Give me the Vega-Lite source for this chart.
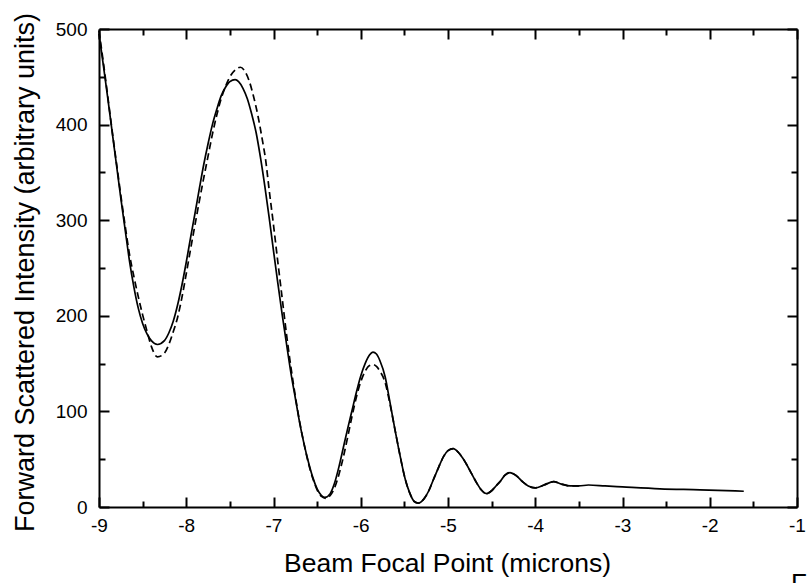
{
  "$schema": "https://vega.github.io/schema/vega-lite/v6.json",
  "width": 698,
  "height": 478,
  "autosize": {"type": "none"},
  "padding": {"left": 99, "top": 29, "right": 11, "bottom": 76},
  "background": "white",
  "title": {"text": "Figure", "orient": "bottom", "anchor": "start", "frame": "group", "dx": 692, "offset": -6, "fontSize": 26, "font": "Liberation Sans", "fontWeight": "normal", "color": "black"},
  "config": {
    "view": {"stroke": null},
    "font": "Liberation Sans",
    "axis": {"grid": false, "domainColor": "black", "domainWidth": 2, "tickColor": "black", "tickWidth": 2, "labelColor": "black", "labelFont": "Liberation Sans", "labelFontSize": 19, "titleColor": "black", "titleFont": "Liberation Sans", "titleFontSize": 26.5, "titleFontWeight": "normal"}
  },
  "datasets": {
    "solid": [
      {"x": -9.00, "y": 495}, {"x": -8.95, "y": 462}, {"x": -8.90, "y": 428}, {"x": -8.85, "y": 393},
      {"x": -8.80, "y": 358}, {"x": -8.75, "y": 323}, {"x": -8.70, "y": 290}, {"x": -8.65, "y": 257},
      {"x": -8.60, "y": 230}, {"x": -8.55, "y": 208}, {"x": -8.50, "y": 192}, {"x": -8.45, "y": 181},
      {"x": -8.40, "y": 174}, {"x": -8.33, "y": 170}, {"x": -8.25, "y": 174}, {"x": -8.20, "y": 182},
      {"x": -8.15, "y": 194}, {"x": -8.10, "y": 211}, {"x": -8.05, "y": 232}, {"x": -8.00, "y": 256},
      {"x": -7.95, "y": 282}, {"x": -7.90, "y": 307}, {"x": -7.85, "y": 333}, {"x": -7.80, "y": 358},
      {"x": -7.75, "y": 380}, {"x": -7.70, "y": 400}, {"x": -7.65, "y": 416}, {"x": -7.60, "y": 430},
      {"x": -7.55, "y": 439}, {"x": -7.50, "y": 445}, {"x": -7.44, "y": 447}, {"x": -7.40, "y": 445},
      {"x": -7.35, "y": 438}, {"x": -7.30, "y": 427}, {"x": -7.25, "y": 411}, {"x": -7.20, "y": 392},
      {"x": -7.15, "y": 366}, {"x": -7.10, "y": 336}, {"x": -7.05, "y": 303}, {"x": -7.00, "y": 268},
      {"x": -6.95, "y": 234}, {"x": -6.90, "y": 201}, {"x": -6.85, "y": 170}, {"x": -6.80, "y": 140},
      {"x": -6.75, "y": 114}, {"x": -6.70, "y": 88}, {"x": -6.65, "y": 66}, {"x": -6.60, "y": 47},
      {"x": -6.55, "y": 31}, {"x": -6.50, "y": 19}, {"x": -6.45, "y": 12}, {"x": -6.41, "y": 10},
      {"x": -6.35, "y": 14}, {"x": -6.30, "y": 25}, {"x": -6.25, "y": 42}, {"x": -6.20, "y": 62},
      {"x": -6.15, "y": 82}, {"x": -6.10, "y": 101}, {"x": -6.05, "y": 120}, {"x": -6.00, "y": 137},
      {"x": -5.95, "y": 150}, {"x": -5.90, "y": 159}, {"x": -5.86, "y": 162}, {"x": -5.82, "y": 160},
      {"x": -5.78, "y": 153}, {"x": -5.72, "y": 136}, {"x": -5.67, "y": 112}, {"x": -5.61, "y": 82},
      {"x": -5.55, "y": 54}, {"x": -5.49, "y": 29}, {"x": -5.44, "y": 15}, {"x": -5.39, "y": 6},
      {"x": -5.34, "y": 4}, {"x": -5.28, "y": 8}, {"x": -5.22, "y": 17}, {"x": -5.17, "y": 28},
      {"x": -5.11, "y": 41}, {"x": -5.05, "y": 53}, {"x": -5.00, "y": 59}, {"x": -4.94, "y": 61},
      {"x": -4.88, "y": 57}, {"x": -4.83, "y": 51}, {"x": -4.79, "y": 45}, {"x": -4.73, "y": 35},
      {"x": -4.67, "y": 25}, {"x": -4.62, "y": 18}, {"x": -4.56, "y": 14}, {"x": -4.50, "y": 17},
      {"x": -4.45, "y": 22}, {"x": -4.40, "y": 27}, {"x": -4.35, "y": 33}, {"x": -4.29, "y": 36},
      {"x": -4.22, "y": 33}, {"x": -4.14, "y": 26}, {"x": -4.08, "y": 22}, {"x": -4.00, "y": 20},
      {"x": -3.90, "y": 23}, {"x": -3.79, "y": 26.5}, {"x": -3.70, "y": 24}, {"x": -3.60, "y": 22},
      {"x": -3.50, "y": 22}, {"x": -3.39, "y": 23}, {"x": -3.20, "y": 22}, {"x": -3.00, "y": 21},
      {"x": -2.57, "y": 19}, {"x": -2.11, "y": 18}, {"x": -1.61, "y": 16.5}
    ],
    "dashed": [
      {"x": -9.00, "y": 498}, {"x": -8.95, "y": 465}, {"x": -8.90, "y": 430}, {"x": -8.85, "y": 394},
      {"x": -8.80, "y": 360}, {"x": -8.75, "y": 326}, {"x": -8.70, "y": 294}, {"x": -8.65, "y": 264},
      {"x": -8.60, "y": 241}, {"x": -8.55, "y": 220}, {"x": -8.50, "y": 201}, {"x": -8.45, "y": 184},
      {"x": -8.40, "y": 168}, {"x": -8.33, "y": 157}, {"x": -8.25, "y": 161}, {"x": -8.20, "y": 170},
      {"x": -8.15, "y": 183}, {"x": -8.10, "y": 198}, {"x": -8.05, "y": 219}, {"x": -8.00, "y": 244},
      {"x": -7.95, "y": 270}, {"x": -7.90, "y": 295}, {"x": -7.85, "y": 320}, {"x": -7.80, "y": 344},
      {"x": -7.75, "y": 367}, {"x": -7.70, "y": 390}, {"x": -7.65, "y": 410}, {"x": -7.60, "y": 427},
      {"x": -7.55, "y": 440}, {"x": -7.50, "y": 450}, {"x": -7.44, "y": 457}, {"x": -7.38, "y": 460},
      {"x": -7.33, "y": 456}, {"x": -7.28, "y": 446}, {"x": -7.23, "y": 430}, {"x": -7.18, "y": 410},
      {"x": -7.13, "y": 385}, {"x": -7.09, "y": 363}, {"x": -7.05, "y": 332}, {"x": -7.00, "y": 295},
      {"x": -6.95, "y": 256}, {"x": -6.90, "y": 218}, {"x": -6.85, "y": 180}, {"x": -6.80, "y": 146},
      {"x": -6.75, "y": 116}, {"x": -6.70, "y": 89}, {"x": -6.65, "y": 66}, {"x": -6.60, "y": 46},
      {"x": -6.55, "y": 30}, {"x": -6.50, "y": 18}, {"x": -6.45, "y": 11}, {"x": -6.40, "y": 9},
      {"x": -6.35, "y": 12}, {"x": -6.30, "y": 20}, {"x": -6.25, "y": 34}, {"x": -6.20, "y": 52},
      {"x": -6.15, "y": 73}, {"x": -6.10, "y": 95}, {"x": -6.05, "y": 115}, {"x": -6.00, "y": 131},
      {"x": -5.95, "y": 142}, {"x": -5.90, "y": 148}, {"x": -5.86, "y": 149}, {"x": -5.82, "y": 147},
      {"x": -5.78, "y": 142}, {"x": -5.72, "y": 130}, {"x": -5.67, "y": 110}, {"x": -5.61, "y": 82},
      {"x": -5.55, "y": 54}, {"x": -5.49, "y": 29}, {"x": -5.44, "y": 15}, {"x": -5.39, "y": 6},
      {"x": -5.34, "y": 4}, {"x": -5.28, "y": 8}, {"x": -5.22, "y": 17}, {"x": -5.17, "y": 28},
      {"x": -5.11, "y": 41}, {"x": -5.05, "y": 53}, {"x": -5.00, "y": 59}, {"x": -4.94, "y": 61},
      {"x": -4.88, "y": 57}, {"x": -4.83, "y": 51}, {"x": -4.79, "y": 45}, {"x": -4.73, "y": 35},
      {"x": -4.67, "y": 25}, {"x": -4.62, "y": 18}, {"x": -4.56, "y": 14}, {"x": -4.50, "y": 17},
      {"x": -4.45, "y": 22}, {"x": -4.40, "y": 27}, {"x": -4.35, "y": 33}, {"x": -4.29, "y": 36},
      {"x": -4.22, "y": 33}, {"x": -4.14, "y": 26}, {"x": -4.08, "y": 22}, {"x": -4.00, "y": 20},
      {"x": -3.90, "y": 23}, {"x": -3.79, "y": 26.5}, {"x": -3.70, "y": 24}, {"x": -3.60, "y": 22},
      {"x": -3.50, "y": 22}
    ]
  },
  "resolve": {"axis": {"x": "independent", "y": "independent"}},
  "layer": [
    {
      "data": {"name": "solid"},
      "mark": {"type": "line", "color": "black", "strokeWidth": 1.7, "interpolate": "monotone"},
      "encoding": {
        "x": {"field": "x", "type": "quantitative", "scale": {"domain": [-9, -1], "nice": false, "zero": false},
              "axis": {"orient": "bottom", "values": [-9, -8, -7, -6, -5, -4, -3, -2, -1], "tickSize": -10, "labelPadding": 19, "labelFlush": false, "labelOverlap": false, "labelExpr": "replace(datum.label, '\u2212', '-')", "title": "Beam Focal Point (microns)", "titleX": 348, "titleY": 64, "titleBaseline": "alphabetic", "titleAnchor": null, "titleAlign": "center", "titleFontSize": 26.5}},
        "y": {"field": "y", "type": "quantitative", "scale": {"domain": [0, 500], "nice": false},
              "axis": {"orient": "left", "values": [0, 100, 200, 300, 400, 500], "tickSize": -10, "labelPadding": 22, "labelFlush": false, "labelOverlap": false, "title": "Forward Scattered Intensity (arbitrary units)", "titleX": -66, "titleY": 243, "titleBaseline": "alphabetic", "titleAngle": -90, "titleAlign": "center", "titleAnchor": null, "titleFontSize": 27}}
      }
    },
    {
      "data": {"name": "dashed"},
      "mark": {"type": "line", "color": "black", "strokeWidth": 1.7, "strokeDash": [7, 4], "interpolate": "monotone"},
      "encoding": {
        "x": {"field": "x", "type": "quantitative", "scale": {"domain": [-9, -1], "nice": false, "zero": false},
              "axis": {"orient": "bottom", "values": [-8.5, -7.5, -6.5, -5.5, -4.5, -3.5, -2.5, -1.5], "tickSize": -6, "labels": false, "domain": false, "title": null}},
        "y": {"field": "y", "type": "quantitative", "scale": {"domain": [0, 500], "nice": false},
              "axis": {"orient": "left", "values": [50, 150, 250, 350, 450], "tickSize": -6, "labels": false, "domain": false, "title": null}}
      }
    },
    {
      "data": {"name": "solid"},
      "mark": {"type": "point", "opacity": 0},
      "encoding": {
        "x": {"field": "x", "type": "quantitative", "scale": {"domain": [-9, -1], "nice": false, "zero": false},
              "axis": {"orient": "top", "values": [-9, -8, -7, -6, -5, -4, -3, -2, -1], "tickSize": -10, "labels": false, "title": null}},
        "y": {"field": "y", "type": "quantitative", "scale": {"domain": [0, 500], "nice": false},
              "axis": {"orient": "right", "values": [0, 100, 200, 300, 400, 500], "tickSize": -10, "labels": false, "title": null}}
      }
    },
    {
      "data": {"name": "dashed"},
      "mark": {"type": "point", "opacity": 0},
      "encoding": {
        "x": {"field": "x", "type": "quantitative", "scale": {"domain": [-9, -1], "nice": false, "zero": false},
              "axis": {"orient": "top", "values": [-8.5, -7.5, -6.5, -5.5, -4.5, -3.5, -2.5, -1.5], "tickSize": -6, "labels": false, "domain": false, "title": null}},
        "y": {"field": "y", "type": "quantitative", "scale": {"domain": [0, 500], "nice": false},
              "axis": {"orient": "right", "values": [50, 150, 250, 350, 450], "tickSize": -6, "labels": false, "domain": false, "title": null}}
      }
    }
  ]
}
